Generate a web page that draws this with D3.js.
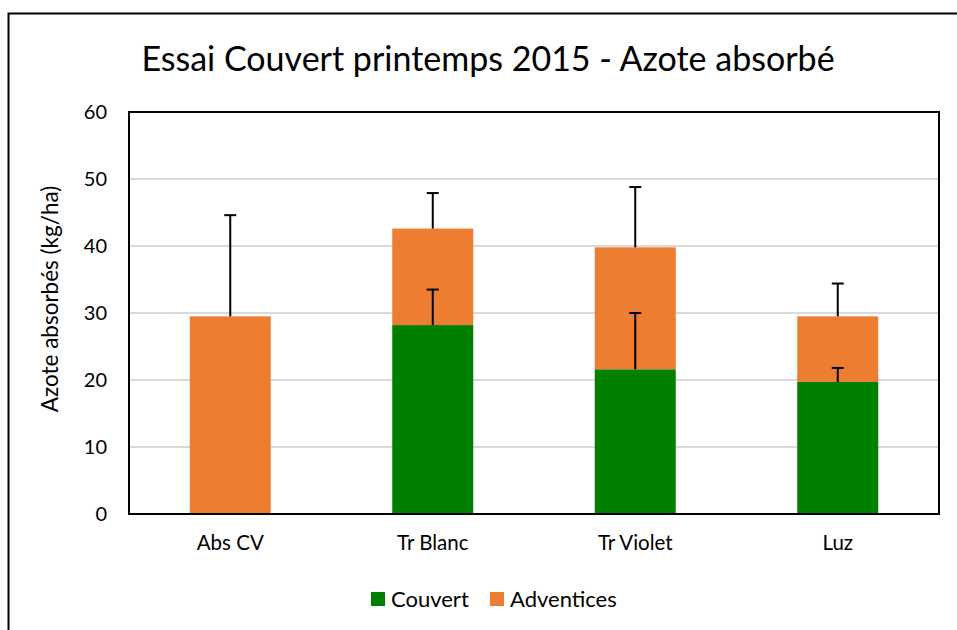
<!DOCTYPE html>
<html>
<head>
<meta charset="utf-8">
<script src="https://cdn.jsdelivr.net/npm/d3@7/dist/d3.min.js"></script>
<style>
body { margin: 0; background: white; }
text { font-family: Lato, "Open Sans", sans-serif; fill: #000; }
</style>
</head>
<body>
<div id="chart"></div>
<script>

var categories = ["Abs CV", "Tr Blanc", "Tr Violet", "Luz"];
var couvert = [0, 28.2, 21.6, 19.7];
var adventices = [29.5, 14.4, 18.2, 9.8];
// upper error bar ends
var errCouvert = [null, 33.5, 30.0, 21.8];
var errTotal = [44.6, 47.9, 48.8, 34.4];
var yTicks = [0, 10, 20, 30, 40, 50, 60];

var colors = {Couvert: "#008000", Adventices: "#ED7D31"};

var W = 957, H = 630;
var svg = d3.select("#chart").append("svg").attr("width", W).attr("height", H);

// outer frame, right/bottom fall off the picture
svg.append("rect").attr("x", 8.5).attr("y", 13.5).attr("width", 1000).attr("height", 700)
	.attr("fill", "white").attr("stroke", "black").attr("stroke-width", 2);

svg.append("text").attr("x", 488).attr("y", 71).attr("text-anchor", "middle")
	.style("font-size", "34px").text("Essai Couvert printemps 2015 - Azote absorbé");

var plot = {left: 129, right: 939, top: 112, bottom: 514};

var x = d3.scaleBand().domain(categories).range([plot.left, plot.right]).paddingInner(0.6).paddingOuter(0.3);
var y = d3.scaleLinear().domain([0, 60]).range([plot.bottom, plot.top]);

// gridlines
svg.append("g").selectAll("line").data(yTicks.slice(1, -1)).join("line")
	.attr("x1", plot.left).attr("x2", plot.right)
	.attr("y1", d => y(d)).attr("y2", d => y(d))
	.attr("stroke", "#D9D9D9").attr("stroke-width", 2);

var stacked = categories.map((c, i) => ({cat: c, c: couvert[i], a: adventices[i]}));

svg.append("g").selectAll("rect").data(stacked).join("rect")
	.attr("x", d => x(d.cat)).attr("width", x.bandwidth())
	.attr("y", d => y(d.c)).attr("height", d => y(0) - y(d.c))
	.attr("fill", colors.Couvert);

svg.append("g").selectAll("rect").data(stacked).join("rect")
	.attr("x", d => x(d.cat)).attr("width", x.bandwidth())
	.attr("y", d => y(d.c + d.a)).attr("height", d => y(d.c) - y(d.c + d.a))
	.attr("fill", colors.Adventices);

// error bars (plus side only)
var errs = [];
categories.forEach(function(c, i) {
	if (errCouvert[i] != null) errs.push({cat: c, from: couvert[i], to: errCouvert[i]});
	errs.push({cat: c, from: couvert[i] + adventices[i], to: errTotal[i]});
});
var eg = svg.append("g").attr("stroke", "black").attr("stroke-width", 2);
errs.forEach(function(e) {
	var cx = x(e.cat) + x.bandwidth() / 2;
	eg.append("line").attr("x1", cx).attr("x2", cx).attr("y1", y(e.from)).attr("y2", y(e.to));
	eg.append("line").attr("x1", cx - 6).attr("x2", cx + 6).attr("y1", y(e.to)).attr("y2", y(e.to));
});

// plot frame
svg.append("rect").attr("x", plot.left).attr("y", plot.top)
	.attr("width", plot.right - plot.left).attr("height", plot.bottom - plot.top)
	.attr("fill", "none").attr("stroke", "black").attr("stroke-width", 2);

// axes
var yAxis = d3.axisLeft(y).tickValues(yTicks).tickSize(0).tickPadding(22);
svg.append("g").attr("transform", "translate(" + plot.left + ",0)").call(yAxis)
	.call(g => g.select(".domain").remove())
	.selectAll("text").style("font-size", "20px").style("font-family", "Lato, sans-serif");

var xAxis = d3.axisBottom(x).tickSize(0).tickPadding(21);
svg.append("g").attr("transform", "translate(0," + plot.bottom + ")").call(xAxis)
	.call(g => g.select(".domain").remove())
	.selectAll("text").style("font-size", "20.5px").style("font-family", "Lato, sans-serif");

svg.append("text").attr("transform", "translate(58,299) rotate(-90)").attr("text-anchor", "middle")
	.style("font-size", "22.5px").text("Azote absorbés (kg/ha)");

// legend
var legend = [{name: "Couvert", x: 371}, {name: "Adventices", x: 490}];
var lg = svg.append("g").selectAll("g").data(legend).join("g")
	.attr("transform", d => "translate(" + d.x + ",592)");
lg.append("rect").attr("width", 14).attr("height", 14).attr("fill", d => colors[d.name]);
lg.append("text").attr("x", 20).attr("y", 14.5).style("font-size", "22px").text(d => d.name);

</script>
</body>
</html>
